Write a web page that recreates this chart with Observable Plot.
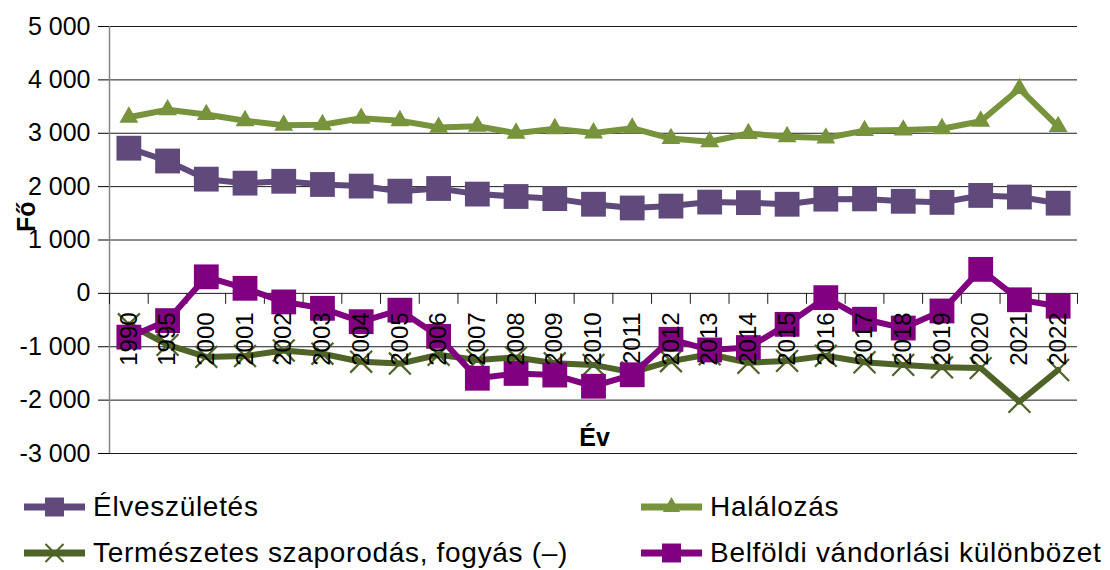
<!DOCTYPE html>
<html><head><meta charset="utf-8">
<script src="https://cdn.jsdelivr.net/npm/d3@7"></script>
<script src="https://cdn.jsdelivr.net/npm/@observablehq/plot@0.6"></script>
<style>
body{margin:0;background:#fff;font-family:"Liberation Sans",Arial,sans-serif;color:#000;}
#chart{position:relative;width:1110px;height:570px;overflow:hidden;background:#fff}
#chart svg.plot{position:absolute;left:0;top:0}
.lg{position:absolute;display:flex;align-items:center;font-size:28px;letter-spacing:0.7px;white-space:nowrap;line-height:1}
.lg svg{display:block;margin-right:8px}
</style></head><body><div id="chart"></div>
<script>
const years = ["1990","1995","2000","2001","2002","2003","2004","2005","2006","2007","2008","2009","2010","2011","2012","2013","2014","2015","2016","2017","2018","2019","2020","2021","2022"];
const births = [2720,2480,2140,2065,2100,2040,2010,1915,1965,1860,1815,1775,1670,1600,1635,1710,1700,1670,1765,1770,1725,1705,1835,1805,1690];
const deaths = [3300,3440,3350,3235,3150,3160,3280,3235,3110,3130,3000,3085,3005,3095,2900,2840,2995,2935,2910,3050,3060,3085,3225,3835,3125];
const natural = [-580,-965,-1190,-1175,-1070,-1130,-1280,-1315,-1150,-1250,-1200,-1310,-1340,-1480,-1270,-1140,-1300,-1265,-1170,-1290,-1340,-1385,-1400,-2030,-1435];
const migration = [-820,-510,310,95,-160,-280,-530,-315,-805,-1590,-1500,-1530,-1740,-1525,-860,-1060,-1015,-580,-80,-485,-650,-330,450,-120,-240];
const yTicks = [-3000,-2000,-1000,0,1000,2000,3000,4000,5000];
const seriesNames = ["Élveszületés","Halálozás","Természetes szaporodás, fogyás (–)","Belföldi vándorlási különbözet"];
const yTitle = "Fő";
const xTitle = "Év";

const styles = [
  {color:"#604A7B", symbol:"square", r:14, filled:true, lgSize:360},
  {color:"#77933C", symbol:"triangle", r:7, filled:true, lgSize:130},
  {color:"#4F6228", symbol:"times", r:10, filled:false, lgSize:215},
  {color:"#800080", symbol:"square", r:14, filled:true, lgSize:360}
];
const valueSets = [births, deaths, natural, migration];
const rows = seriesNames.flatMap((name, k) => years.map((year, i) => ({series:name, year, value:valueSets[k][i]})));

const W = 1110, H = 470;
const plotLeft = 109, plotRight = 1077, plotTop = 26, plotBottom = 453;
const step = (plotRight - plotLeft) / years.length;
const fmt = d3.formatLocale({decimal:",", thousands:" ", grouping:[3], currency:["",""], minus:"-"}).format(",");

const marks = [
  Plot.ruleY(yTicks, {stroke:"#1b1b1b", strokeWidth:1}),
  Plot.ruleX([years[0]], {x:d=>d, y1:-3000, y2:5000, dx:-step/2, stroke:"#868686", strokeWidth:1.5}),
  Plot.ruleX(years, {x:d=>d, y1:0, y2:-205, dx:-step/2, stroke:"#1b1b1b", strokeWidth:1}),
  Plot.ruleX([years[years.length-1]], {x:d=>d, y1:0, y2:-205, dx:step/2, stroke:"#1b1b1b", strokeWidth:1})
];
seriesNames.forEach((name, k) => {
  const s = styles[k];
  const d = rows.filter(r => r.series === name);
  marks.push(Plot.line(d, {x:"year", y:"value", stroke:s.color, strokeWidth:6, strokeLinejoin:"round"}));
  if (s.filled) {
    marks.push(Plot.dot(d, {x:"year", y:"value", symbol:s.symbol, r:s.r, fill:s.color, stroke:"none"}));
  } else {
    marks.push(Plot.dot(d, {x:"year", y:"value", symbol:s.symbol, r:s.r, fill:"none", stroke:s.color, strokeWidth:2.2}));
  }
});
marks.push(Plot.text(years, {x:d=>d, y:0, text:d=>d, rotate:-90, textAnchor:"end", dy:19, fontSize:24, fill:"#000"}));
marks.push(Plot.text([yTitle], {frameAnchor:"left", text:d=>d, rotate:-90, dx:-83, dy:-8, fontSize:25, fontWeight:"bold", fill:"#000"}));
marks.push(Plot.text([xTitle], {frameAnchor:"bottom", text:d=>d, dx:1, dy:-8, fontSize:25, fontWeight:"bold", fill:"#000"}));

const plot = Plot.plot({
  width: W, height: H,
  marginLeft: plotLeft, marginRight: W - plotRight, marginTop: plotTop, marginBottom: H - plotBottom,
  style: {fontFamily:"'Liberation Sans', Arial, sans-serif", fontSize:"25px", color:"#000", background:"transparent", overflow:"visible"},
  x: {type:"point", domain:years, padding:0.5, round:false, axis:null},
  y: {domain:[-3000,5000], ticks:yTicks, tickFormat:fmt, tickSize:11, tickPadding:8, label:null},
  marks
});
plot.classList.add("plot");
const chart = document.getElementById("chart");
chart.appendChild(plot);

// legend
const legendPos = [
  {x:24, y:507, w:61}, {x:641, y:507, w:61},
  {x:24, y:553, w:61}, {x:641, y:553, w:61}
];
seriesNames.forEach((name, k) => {
  const s = styles[k], p = legendPos[k];
  const div = document.createElement("div");
  div.className = "lg";
  div.style.left = p.x + "px";
  div.style.top = (p.y - 15) + "px";
  div.style.height = "30px";
  const svg = d3.create("svg").attr("width", p.w).attr("height", 30);
  svg.append("line").attr("x1",0).attr("x2",p.w).attr("y1",15).attr("y2",15).attr("stroke",s.color).attr("stroke-width",7);
  const sym = {square:d3.symbolSquare, triangle:d3.symbolTriangle, times:d3.symbolTimes}[s.symbol];
  const path = svg.append("path").attr("transform",`translate(${p.w/2},15)`).attr("d", d3.symbol(sym, s.lgSize)());
  if (s.filled) path.attr("fill", s.color); else path.attr("fill","none").attr("stroke", s.color).attr("stroke-width",2);
  div.appendChild(svg.node());
  const span = document.createElement("span");
  span.textContent = name;
  div.appendChild(span);
  chart.appendChild(div);
});
</script></body></html>
